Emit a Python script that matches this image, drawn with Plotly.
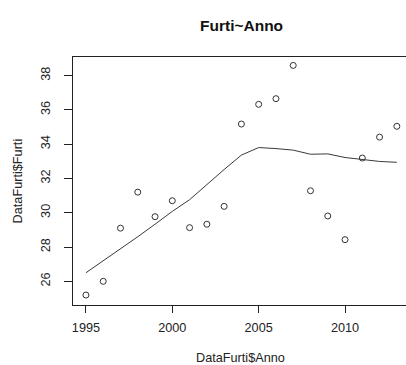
import plotly.graph_objects as go

# Yearly thefts (Furti) by year (Anno)
anno = [1995, 1996, 1997, 1998, 1999, 2000, 2001, 2002, 2003, 2004,
        2005, 2006, 2007, 2008, 2009, 2010, 2011, 2012, 2013]
furti = [25.2, 26.0, 29.1, 31.2, 29.77, 30.7, 29.13, 29.33, 30.37, 35.17,
         36.32, 36.65, 38.59, 31.28, 29.81, 28.43, 33.19, 34.41, 35.04]

# Smoothed trend (lowess) evaluated at each year
smooth = [26.5, 27.2, 27.87, 28.6, 29.33, 30.08, 30.76, 31.65, 32.52, 33.36,
          33.8, 33.74, 33.65, 33.41, 33.43, 33.22, 33.11, 32.99, 32.94]

x_ticks = [1995, 2000, 2005, 2010]
y_ticks = [26, 28, 30, 32, 34, 36, 38]

FONT = "Liberation Sans, Arial, sans-serif"
INK = "#222222"

fig = go.Figure()
fig.add_trace(go.Scatter(
    x=anno, y=smooth, mode="lines",
    line=dict(color="#3a3a3a", width=1),
    hoverinfo="skip", showlegend=False,
))
fig.add_trace(go.Scatter(
    x=anno, y=furti, mode="markers",
    marker=dict(symbol="circle-open", size=6, color="#333333",
                line=dict(width=1, color="#333333")),
    showlegend=False,
))

fig.update_layout(
    width=406, height=365,
    margin=dict(l=73, r=0, t=57, b=60),
    paper_bgcolor="white", plot_bgcolor="white",
    font=dict(family=FONT, size=12, color=INK),
    xaxis=dict(
        range=[1994.25, 2013.53],
        tickmode="array", tickvals=x_ticks,
        ticktext=[str(v) for v in x_ticks],
        ticks="outside", ticklen=7, tickwidth=1, tickcolor=INK,
        showline=True, linecolor=INK, linewidth=1, mirror=True,
        showgrid=False, zeroline=False, ticklabelstandoff=4,
        tickfont=dict(family=FONT, size=12.7, color=INK),
    ),
    yaxis=dict(
        range=[24.62, 39.08],
        tickmode="array", tickvals=y_ticks,
        ticktext=[str(v) for v in y_ticks],
        ticks="outside", ticklen=8, tickwidth=1, tickcolor=INK,
        showline=True, linecolor=INK, linewidth=1, mirror=False,
        showgrid=False, zeroline=False, tickangle=-90,
        ticklabelstandoff=9,
        tickfont=dict(family=FONT, size=12.7, color=INK),
    ),
    annotations=[
        dict(text="<b>Furti~Anno</b>", xref="paper", yref="paper",
             x=0.505, y=1.129, showarrow=False,
             font=dict(family=FONT, size=15.5, color="#111111"),
             xanchor="center", yanchor="middle"),
        dict(text="DataFurti$Anno", xref="paper", yref="paper",
             x=0.503, y=-0.212, showarrow=False,
             font=dict(family=FONT, size=12.7, color=INK),
             xanchor="center", yanchor="middle"),
        dict(text="DataFurti$Furti", xref="paper", yref="paper",
             x=-0.164, y=0.5, showarrow=False, textangle=-90,
             font=dict(family=FONT, size=12.7, color=INK),
             xanchor="center", yanchor="middle"),
    ],
)

fig.write_html("out.html")
